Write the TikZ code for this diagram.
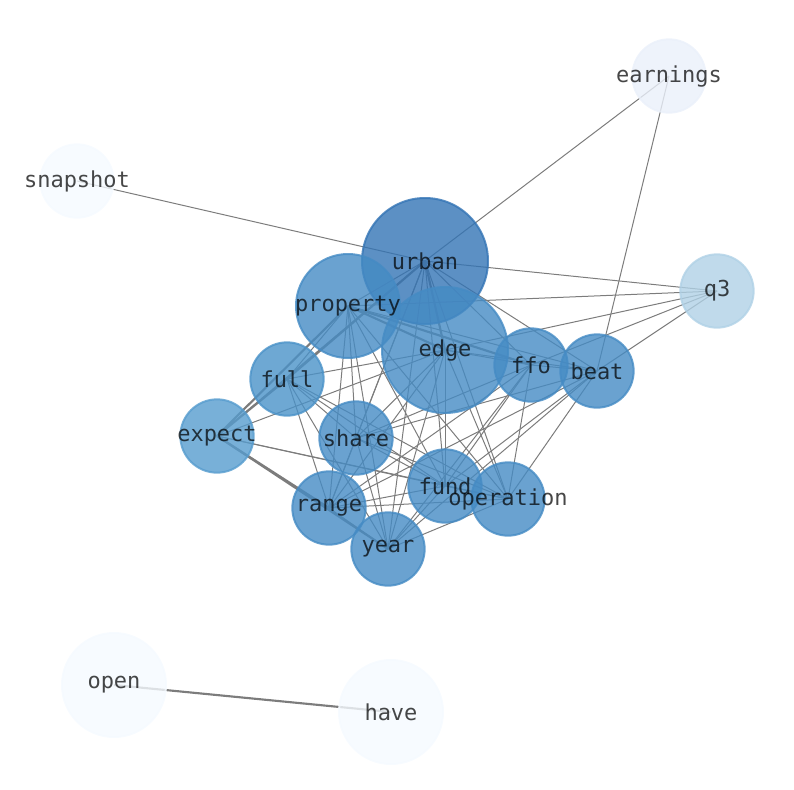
\documentclass[tikz,border=0pt]{standalone}
\usepackage{fontspec}
\setmonofont{DejaVu Sans Mono}
\usetikzlibrary{backgrounds}
\definecolor{blueurban}{RGB}{51,116,181}
\definecolor{bluemid}{RGB}{69,139,196}
\definecolor{bluefull}{RGB}{74,146,200}
\definecolor{blueexpect}{RGB}{86,156,206}
\definecolor{blueqthree}{RGB}{176,209,230}
\definecolor{blueearn}{RGB}{234,240,250}
\definecolor{bluepale}{RGB}{245,250,255}
\definecolor{linkgray}{RGB}{124,124,124}

\begin{document}
\begin{tikzpicture}[x=0.75pt, y=-0.75pt,
    word/.style={circle, inner sep=0pt, line width=1.5pt, fill opacity=0.8, draw opacity=0.8},
    big/.style={word, minimum size=94.5pt},
    mid/.style={word, minimum size=78pt},
    small/.style={word, minimum size=55pt},
    tag/.style={font=\ttfamily\fontsize{16.5}{18}\selectfont, text=black, text opacity=0.72, inner sep=0pt},
    deep/.style={fill=blueurban, draw=blueurban},
    core/.style={fill=bluemid, draw=bluemid},
    lite/.style={fill=bluefull, draw=bluefull},
    pale/.style={fill=bluepale, draw=bluepale},
    link/.style={draw=linkgray, line width=0.75pt},
    heavy/.style={link, line width=1.6pt}
]
    \useasboundingbox (0,0) rectangle (794,790);

    % words
    \node[big, deep, label={[tag]center:urban}] (urban) at (425,261) {};
    \node[big, core, label={[tag]center:edge}] (edg) at (445,350) {};
    \node[mid, core, label={[tag]center:property}] (property) at (348,306) {};
    \node[small, core, label={[tag]center:ffo}] (ffo) at (531,365) {};
    \node[small, core, label={[tag]center:beat}] (beat) at (597,371) {};
    \node[small, lite, label={[tag]center:full}] (full) at (287,379) {};
    \node[small, fill=blueexpect, draw=blueexpect, label={[tag]center:expect}] (expect) at (217,436) {};
    \node[small, core, label={[tag]center:share}] (share) at (356,438) {};
    \node[small, core, label={[tag]center:range}] (range) at (329,508) {};
    \node[small, core, label={[tag]center:year}] (year) at (388,549) {};
    \node[small, core, label={[tag]center:fund}] (fund) at (445,486) {};
    \node[small, core, label={[tag]center:operation}] (operation) at (508,499) {};
    \node[small, fill=blueqthree, draw=blueqthree, label={[tag]center:q3}] (q3) at (717,291) {};
    \node[small, fill=blueearn, draw=blueearn, label={[tag]center:earnings}] (earnings) at (669,76) {};
    \node[small, pale, label={[tag]center:snapshot}] (snapshot) at (77,181) {};
    \node[mid, pale, label={[tag]center:open}] (open) at (114,685) {};
    \node[mid, pale, label={[tag]center:have}] (have) at (391,712) {};

    \begin{scope}[on background layer]
        \foreach \a/\b in {urban/snapshot, urban/earnings, urban/q3, urban/property, urban/ffo,
            urban/beat, urban/expect, urban/share, urban/fund, urban/operation, urban/range, urban/year,
            property/beat, property/full, property/share, property/fund, property/operation,
            property/range, property/year, property/q3,
            edg/ffo, edg/beat, edg/full, edg/expect, edg/share, edg/fund, edg/operation,
            edg/range, edg/year, edg/q3,
            ffo/beat, ffo/share, ffo/fund, ffo/operation, ffo/range, ffo/year, ffo/q3,
            beat/earnings, beat/q3, beat/share, beat/fund, beat/operation, beat/range, beat/year,
            full/share, full/fund, full/operation, full/range, full/year,
            expect/fund, expect/operation,
            share/fund, share/operation, share/range, share/year,
            fund/operation, fund/range, fund/year,
            operation/range, operation/year, range/year}
            \draw[link] (\a.center) -- (\b.center);
        \foreach \a/\b in {urban/edg, urban/full, property/edg, property/ffo, property/expect,
            expect/full, expect/range, expect/year, open/have}
            \draw[heavy] (\a.center) -- (\b.center);
    \end{scope}
\end{tikzpicture}
\end{document}
